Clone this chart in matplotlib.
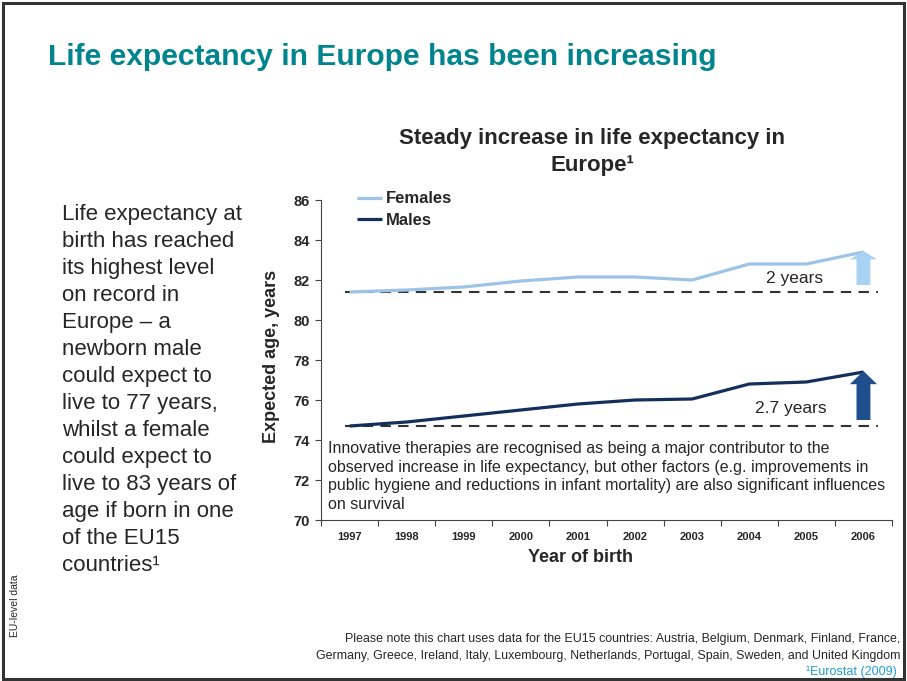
import matplotlib
matplotlib.use("Agg")
import matplotlib.pyplot as plt
from matplotlib.patches import FancyArrowPatch, Rectangle

plt.rcParams['font.family'] = ['Liberation Sans', 'DejaVu Sans']

# ---- data ----
years = ['1997', '1998', '1999', '2000', '2001', '2002', '2003', '2004', '2005', '2006']
females = [81.4, 81.5, 81.65, 81.95, 82.15, 82.15, 82.0, 82.8, 82.8, 83.4]
males = [74.7, 74.9, 75.2, 75.5, 75.8, 76.0, 76.05, 76.8, 76.9, 77.4]
female_gain_label = '2 years'
male_gain_label = '2.7 years'
y_ticks = [70, 72, 74, 76, 78, 80, 82, 84, 86]

TEXT = '#262626'
TEAL = '#00848E'
F_LINE = '#9DC3E6'
F_ARROW = '#A9D1F2'
M_LINE = '#14305A'
M_ARROW = '#1F4E8C'
LINK = '#1E9CD8'

W, H = 907, 681
fig = plt.figure(figsize=(W / 100, H / 100), dpi=100)

# slide frame
fig.patches.append(Rectangle((3 / W, 2 / H), 901 / W, 676 / H, transform=fig.transFigure,
                             fill=False, edgecolor='#333333', linewidth=2.2))

fig.text(48 / W, 1 - 57 / H, 'Life expectancy in Europe has been increasing',
         fontsize=21.6, fontweight='bold', color=TEAL, va='center', ha='left')

intro = ('Life expectancy at\nbirth has reached\nits highest level\non record in\n'
         'Europe \u2013 a\nnewborn male\ncould expect to\nlive to 77 years,\n'
         'whilst a female\ncould expect to\nlive to 83 years of\nage if born in one\n'
         'of the EU15\ncountries\u00b9')
fig.text(62 / W, 1 - 204 / H, intro, fontsize=16, color=TEXT, va='top', ha='left',
         linespacing=1.375)

fig.text(592 / W, 1 - 152 / H, 'Steady increase in life expectancy in\nEurope\u00b9',
         fontsize=16, fontweight='bold', color=TEXT, ha='center', va='center',
         linespacing=1.36)

# ---- chart ----
ax = fig.add_axes([321 / W, 1 - 520 / H, 571 / W, 320 / H])
x = list(range(len(years)))

ax.plot(x, females, color=F_LINE, lw=2.3, label='Females', solid_capstyle='butt', zorder=3)
ax.plot(x, males, color=M_LINE, lw=2.3, label='Males', solid_capstyle='butt', zorder=3)

# baselines at the first year
for base in (females[0], males[0]):
    ax.plot([-0.08, 9.25], [base, base], color='#333333', lw=1.5,
            dashes=(5, 3.5), zorder=2)

# gain arrows at the last year
for vals, col, hl, lift in ((females, F_ARROW, 0.6, 0.35), (males, M_ARROW, 0.95, 0.3)):
    arr = FancyArrowPatch((x[-1], vals[0] + lift), (x[-1], vals[-1] + 0.05),
                          arrowstyle=f'simple,head_length={hl},head_width=1.95,tail_width=1.0',
                          mutation_scale=10, color=col, shrinkA=0, shrinkB=0, zorder=4, lw=0)
    ax.add_patch(arr)

ax.text(7.8, 82.05, female_gain_label, fontsize=12.5, color=TEXT, ha='center', va='center')
ax.text(7.73, 75.6, male_gain_label, fontsize=12.5, color=TEXT, ha='center', va='center')

ax.text(-0.38, 73.95,
        'Innovative therapies are recognised as being a major contributor to the\n'
        'observed increase in life expectancy, but other factors (e.g. improvements in\n'
        'public hygiene and reductions in infant mortality) are also significant influences\n'
        'on survival',
        fontsize=11.5, color=TEXT, ha='left', va='top', linespacing=1.3)

ax.set_xlim(-0.5, len(years) - 0.5)
ax.set_ylim(70, 86)
ax.set_yticks(y_ticks)
ax.set_yticklabels([str(t) for t in y_ticks], fontsize=10.5, fontweight='bold', color=TEXT)
ax.set_xticks(x)
ax.set_xticklabels(years, fontsize=8, fontweight='bold', color=TEXT)
ax.set_xticks([i - 0.5 for i in range(len(years) + 1)], minor=True)
ax.tick_params(axis='x', which='major', length=0, pad=9)
ax.tick_params(axis='x', which='minor', length=4, width=0.8, color='#444444', direction='out')
ax.tick_params(axis='y', length=4, width=0.8, color='#444444', pad=4)

for s in ('top', 'right'):
    ax.spines[s].set_visible(False)
for s in ('left', 'bottom'):
    ax.spines[s].set_color('#444444')
    ax.spines[s].set_linewidth(0.8)

ax.set_ylabel('Expected age, years', fontsize=13, fontweight='bold', color=TEXT)
ax.yaxis.set_label_coords(-(321 - 272) / 571, 0.51)
ax.yaxis.label.set_va('center')
ax.set_xlabel('Year of birth', fontsize=13, fontweight='bold', color=TEXT)
ax.xaxis.set_label_coords((581 - 321) / 571, -(557 - 520) / 320)
ax.xaxis.label.set_va('center')

leg = ax.legend(loc='upper left', bbox_to_anchor=(0.063, 1.027), frameon=False,
                borderpad=0, borderaxespad=0, handlelength=1.5, handletextpad=0.25,
                labelspacing=0.4, prop={'size': 12, 'weight': 'bold'})
for t in leg.get_texts():
    t.set_color(TEXT)

# ---- footnotes ----
fig.text(15 / W, 1 - 606 / H, 'EU-level data', rotation=90, fontsize=7.5, color=TEXT,
         ha='center', va='center')
fig.text(900 / W, 1 - 639 / H,
         'Please note this chart uses data for the EU15 countries: Austria, Belgium, Denmark, Finland, France,',
         fontsize=8.9, color=TEXT, ha='right', va='center')
fig.text(900 / W, 1 - 656 / H,
         'Germany, Greece, Ireland, Italy, Luxembourg, Netherlands, Portugal, Spain, Sweden, and United Kingdom',
         fontsize=8.9, color=TEXT, ha='right', va='center')
fig.text(897 / W, 1 - 672 / H, '\u00b9Eurostat (2009)', fontsize=9, color=LINK,
         ha='right', va='center')

fig.savefig('out.png', dpi=100)
